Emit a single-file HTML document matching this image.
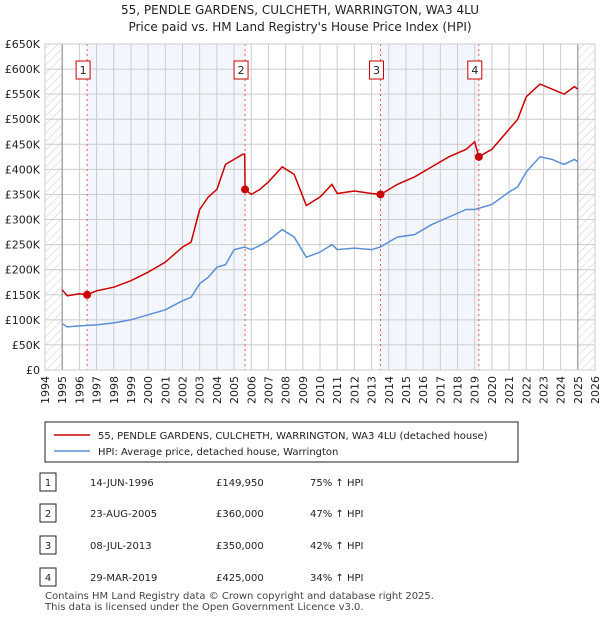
<!DOCTYPE html>
<html><head><meta charset="utf-8"><style>
body{margin:0;background:#fff;font-family:"Liberation Sans","DejaVu Sans",sans-serif;}
svg text{font-family:"DejaVu Sans","Liberation Sans",sans-serif;}
</style></head><body>
<svg id="c" width="600" height="620" xmlns="http://www.w3.org/2000/svg">
<defs><pattern id="h" width="6" height="6" patternUnits="userSpaceOnUse" patternTransform="rotate(45)"><line x1="0" y1="0" x2="0" y2="6" stroke="#ccc" stroke-width="1"/></pattern></defs>
<text x="300" y="14" text-anchor="middle" font-size="12" fill="#222">55, PENDLE GARDENS, CULCHETH, WARRINGTON, WA3 4LU</text>
<text x="300" y="31" text-anchor="middle" font-size="12" fill="#222">Price paid vs. HM Land Registry's House Price Index (HPI)</text>
<g id="plot"></g>
<rect x="45" y="422" width="473" height="40" fill="#fff" stroke="#222"/>
<line x1="54" y1="435" x2="90" y2="435" stroke="#cc0000" stroke-width="1.5"/>
<text x="98" y="439" font-size="10" fill="#222">55, PENDLE GARDENS, CULCHETH, WARRINGTON, WA3 4LU (detached house)</text>
<line x1="54" y1="451" x2="90" y2="451" stroke="#5b8fd6" stroke-width="1.5"/>
<text x="98" y="455" font-size="10" fill="#222">HPI: Average price, detached house, Warrington</text>
<g id="tbl"></g>
<text x="45" y="599" font-size="10" fill="#444">Contains HM Land Registry data © Crown copyright and database right 2025.</text>
<text x="45" y="610" font-size="10" fill="#444">This data is licensed under the Open Government Licence v3.0.</text>
</svg>
<script>
const hpiYears=[1995,1995.3,1996,1997,1998,1999,2000,2001,2002,2002.5,2003,2003.5,2004,2004.5,2005,2005.6,2006,2006.5,2007,2007.8,2008.5,2009.2,2010,2010.7,2011,2012,2013,2013.5,2014.5,2015.5,2016.5,2017.5,2018.5,2019,2020,2021,2021.5,2022,2022.8,2023.5,2024.2,2024.8,2025];
const hpiValues=[92,86,88,90,94,100,110,120,138,145,172,185,205,210,240,245,240,248,258,280,265,225,235,250,240,243,240,245,265,270,290,305,320,320,330,355,365,395,425,420,410,420,415];
const priceYears=[1995,1995.3,1996,1996.45,1997,1998,1999,2000,2001,2002,2002.5,2003,2003.5,2004,2004.5,2005,2005.5,2005.62,2005.64,2006,2006.5,2007,2007.8,2008.5,2009.2,2010,2010.7,2011,2012,2013,2013.52,2014.5,2015.5,2016.5,2017.5,2018.5,2019,2019.24,2020,2021,2021.5,2022,2022.8,2023.5,2024.2,2024.8,2025];
const priceValues=[160,148,152,150,158,165,178,195,215,245,255,320,345,360,410,420,430,430,360,350,360,375,405,390,328,345,370,352,357,352,350,370,385,405,425,440,455,425,440,480,500,545,570,560,550,565,560];
const saleYears=[1996.45,2005.64,2013.52,2019.24];
const saleValues=[149.95,360,350,425];
const saleLabels=["1","2","3","4"];
const saleDates=["14-JUN-1996","23-AUG-2005","08-JUL-2013","29-MAR-2019"];
const salePrices=["£149,950","£360,000","£350,000","£425,000"];
const salePct=["75% ↑ HPI","47% ↑ HPI","42% ↑ HPI","34% ↑ HPI"];
const yTicks=[0,50,100,150,200,250,300,350,400,450,500,550,600,650];
const xTicks=[1994,1995,1996,1997,1998,1999,2000,2001,2002,2003,2004,2005,2006,2007,2008,2009,2010,2011,2012,2013,2014,2015,2016,2017,2018,2019,2020,2021,2022,2023,2024,2025,2026];
const NS="http://www.w3.org/2000/svg";
const X0=45,X1=595,Y0=370,Y1=44;
const x=v=>X0+(v-1994)/(2026-1994)*(X1-X0);
const y=v=>Y0-(v/650)*(Y0-Y1);
const g=document.getElementById('plot');
function mk(t,a,p){const e=document.createElementNS(NS,t);for(const k in a)e.setAttribute(k,a[k]);(p||g).appendChild(e);return e;}
let e;
e=mk('rect',{x:x(saleYears[0]),y:Y1,width:x(saleYears[1])-x(saleYears[0]),height:Y0-Y1,fill:'#eef3fc',opacity:0.7});


e=mk('rect',{x:x(saleYears[2]),y:Y1,width:x(saleYears[3])-x(saleYears[2]),height:Y0-Y1,fill:'#eef3fc',opacity:0.7});


xTicks.forEach(t=>{e=mk('line',{x1:x(t),x2:x(t),y1:Y1,y2:Y0,stroke:'#ccc'});


e=mk('text',{x:0,y:0,'font-size':11,fill:'#222','text-anchor':'end',transform:`translate(${x(t)+4},${Y0+6}) rotate(-90)`});e.textContent=t;

});
yTicks.forEach(t=>{e=mk('line',{x1:X0,x2:X1,y1:y(t),y2:y(t),stroke:'#ccc'});


e=mk('text',{x:40,y:y(t)+4,'font-size':11,fill:'#222','text-anchor':'end'});e.textContent=t===0?'£0':'£'+t+'K';

});
e=mk('rect',{x:X0,y:Y1,width:x(1995)-X0,height:Y0-Y1,fill:'url(#h)'});


e=mk('rect',{x:x(2025),y:Y1,width:X1-x(2025),height:Y0-Y1,fill:'url(#h)'});


mk('line',{x1:x(1995),x2:x(1995),y1:Y1,y2:Y0,stroke:'#888'});
mk('line',{x1:x(2025),x2:x(2025),y1:Y1,y2:Y0,stroke:'#888'});
saleYears.forEach((s,i)=>{e=mk('line',{x1:x(s),x2:x(s),y1:Y1,y2:Y0,stroke:'#e55',"stroke-dasharray":'2,3'});


e=mk('rect',{x:x(s)-11,y:61,width:14,height:18,fill:'#fff',stroke:'#cc0000'});


e=mk('text',{x:x(s)-4,y:74,'font-size':11,fill:'#222','text-anchor':'middle'});e.textContent=saleLabels[i];

});
function pts(xs,vs){return xs.map((v,i)=>x(v).toFixed(1)+','+y(vs[i]).toFixed(1)).join(' ');}
e=mk('polyline',{points:pts(hpiYears,hpiValues),fill:'none',stroke:'#5b8fd6','stroke-width':1.5});


e=mk('polyline',{points:pts(priceYears,priceValues),fill:'none',stroke:'#cc0000','stroke-width':1.5});


saleYears.forEach((s,i)=>{e=mk('circle',{cx:x(s),cy:y(saleValues[i]),r:4,fill:'#cc0000'});

});
e=mk('rect',{x:X0,y:Y1,width:X1-X0,height:Y0-Y1,fill:'none',stroke:'#ccc'});
const tb=document.getElementById('tbl');
const rowsY=[482,513,545,577];
rowsY.forEach((ry,i)=>{
e=mk('rect',{x:40,y:ry-9,width:16,height:18,fill:'#fff',stroke:'#222'},tb);


e=mk('text',{x:48,y:ry+4,'font-size':10,fill:'#222','text-anchor':'middle'},tb);e.textContent=saleLabels[i];


e=mk('text',{x:90,y:ry+4,'font-size':10,fill:'#222'},tb);e.textContent=saleDates[i];


e=mk('text',{x:216,y:ry+4,'font-size':10,fill:'#222'},tb);e.textContent=salePrices[i];


e=mk('text',{x:310,y:ry+4,'font-size':10,fill:'#222'},tb);e.textContent=salePct[i];


});
</script>
</body></html>
